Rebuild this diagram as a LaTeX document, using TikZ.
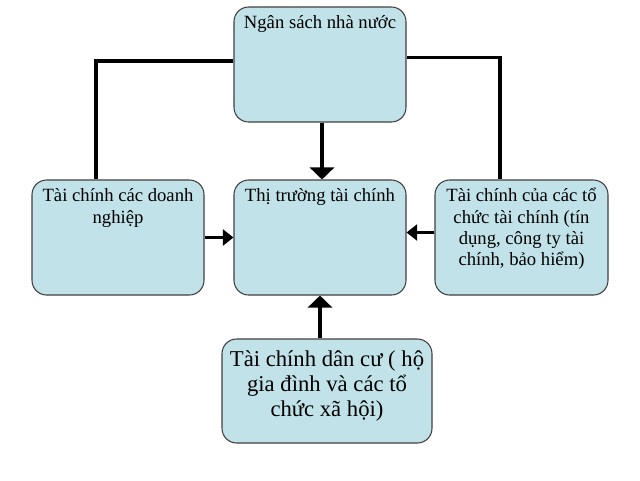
\documentclass[tikz,border=0pt]{standalone}
\usepackage{fontspec}
\setmainfont{Liberation Serif}
\usetikzlibrary{arrows.meta,calc}
\definecolor{boxfill}{RGB}{192,226,232}
\newcommand\fstrut{\rule{0pt}{1em}}
\begin{document}
\begin{tikzpicture}[x=0.75pt,y=-0.75pt,
 box/.style={draw=black!75, line width=0.8pt, fill=boxfill, rounded corners=11pt, inner sep=0pt, minimum width=129pt, minimum height=86.25pt},
 lbl/.style={font=\fontsize{14}{16}\selectfont, align=center, inner sep=0pt, anchor=north},
 lblbig/.style={font=\fontsize{17}{18.8}\selectfont, align=center, inner sep=0pt, anchor=north},
 conn/.style={line width=2.3pt, black},
 arrv/.style={conn, -{Triangle[length=9pt,width=18pt]}},
 arrh/.style={conn, -{Triangle[length=8pt,width=12pt]}}]
\useasboundingbox[fill=white] (0,0) rectangle (640,480);
\node[box] (ns) at (320,64.5) {};
\node[box] (tt) at (320,237.5) {};
\node[box] (dn) at (118,237.5) {};
\node[box, minimum width=129.75pt] (tc) at (521.5,237.5) {};
\node[box, minimum width=157.5pt, minimum height=78pt] (dc) at (327,391) {};
\node[lbl] (nsT) at ($(ns.north)+(0,3.3)$) {\fstrut Ngân sách nhà nước};
\node[lbl] (ttT) at ($(tt.north)+(0,3.3)$) {\fstrut Thị trường tài chính};
\node[lbl] (dnT) at ($(dn.north)+(0,3.3)$) {\fstrut Tài chính các doanh\\nghiệp};
\node[lbl] (tcT) at ($(tc.north)+(0,3.3)$) {\fstrut Tài chính của các tổ\\chức tài chính (tín\\dụng, công ty tài\\chính, bảo hiểm)};
\node[lblbig] (dcT) at ($(dc.north)+(0,5.3)$) {\fstrut Tài chính dân cư ( hộ\\gia đình và các tổ\\chức xã hội)};
\draw[conn] ($(ns.west)+(0,-3.5)$) -| ($(dn.north)+(-22,0)$);
\draw[conn] ($(ns.east)+(0,-7)$) -| ($(tc.north)+(-21.5,0)$);
\draw[arrv] ($(ns.south)+(2,0)$) -- ($(tt.north)+(2,0)$);
\draw[arrh] (dn.east) -- (tt.west);
\draw[arrh] ($(tc.west)+(0,-5)$) -- ($(tt.east)+(0,-5)$);
\draw[arrv] ($(dc.north)+(-7,0)$) -- (tt.south);
\end{tikzpicture}
\end{document}
